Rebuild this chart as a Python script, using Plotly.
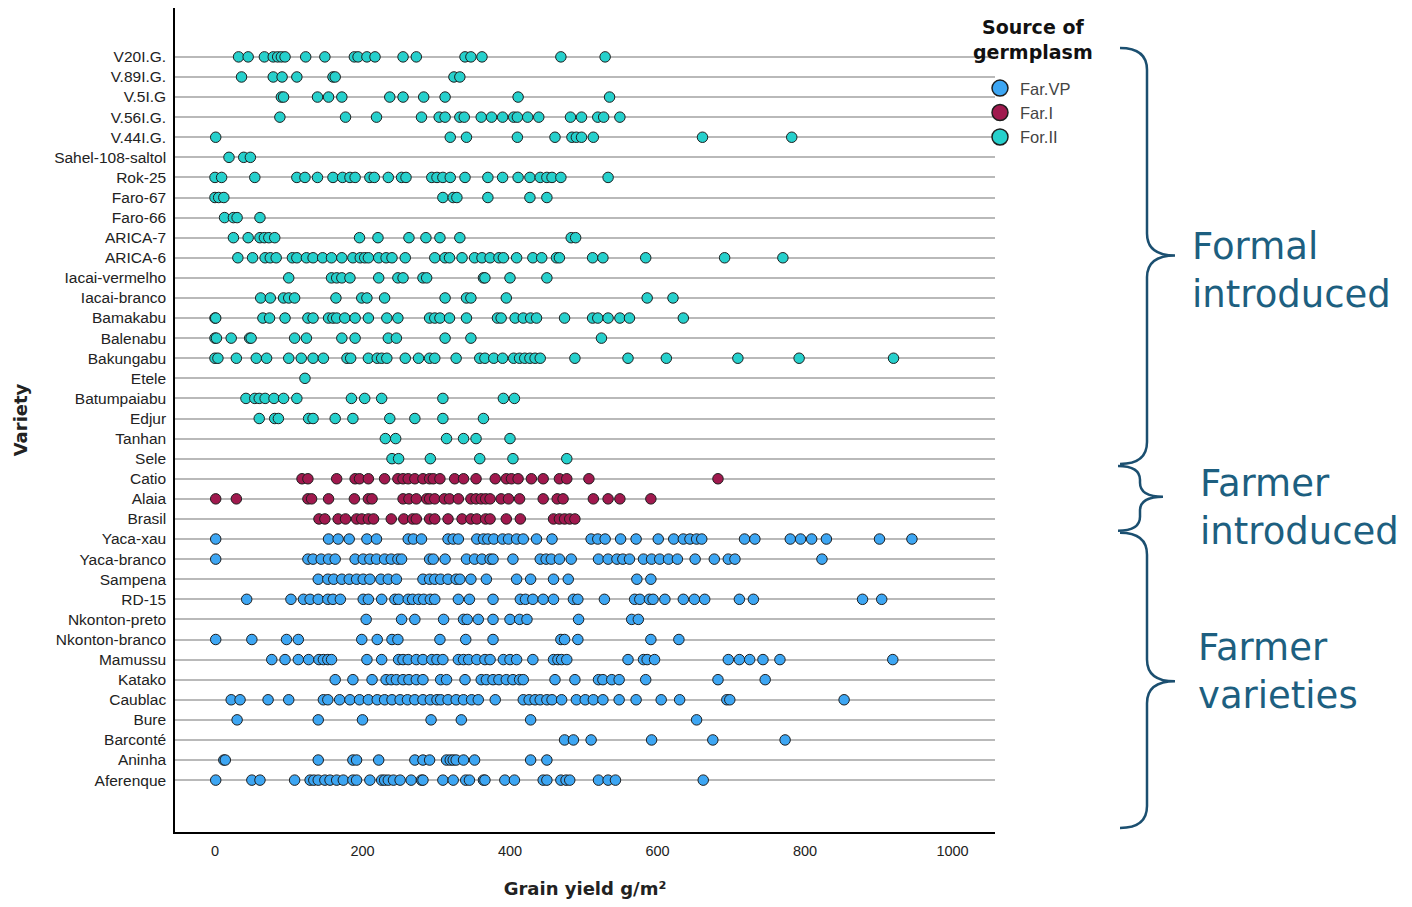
import plotly.graph_objects as go

# ---------------- data (bottom to top on the y axis) ----------------
varieties = ["Aferenque", "Aninha", "Barconté", "Bure", "Caublac", "Katako", "Mamussu",
             "Nkonton-branco", "Nkonton-preto", "RD-15", "Sampena", "Yaca-branco", "Yaca-xau",
             "Brasil", "Alaia", "Catio",
             "Sele", "Tanhan", "Edjur", "Batumpaiabu", "Etele", "Bakungabu", "Balenabu",
             "Bamakabu", "Iacai-branco", "Iacai-vermelho", "ARICA-6", "ARICA-7", "Faro-66",
             "Faro-67", "Rok-25", "Sahel-108-saltol", "V.44I.G.", "V.56I.G.", "V.5I.G",
             "V.89I.G.", "V20I.G."]

source = (["Far.VP"] * 13) + (["Far.I"] * 3) + (["For.II"] * 21)

sources = ["Far.VP", "Far.I", "For.II"]
source_colors = ["#3da6f3", "#a0194e", "#26d0cc"]

y_aferenque = [1, 50, 61, 108, 129, 134, 140, 149, 156, 165, 174, 187, 192, 210, 226, 230, 235, 242, 251,
               266, 280, 282, 309, 323, 340, 345, 364, 366, 393, 406, 445, 450, 469, 476, 481, 520, 533, 543, 662]
y_aninha = [12, 14, 140, 187, 192, 222, 271, 282, 291, 314, 319, 323, 327, 337, 352, 428, 450]
y_barconte = [474, 486, 510, 592, 675, 773]
y_bure = [30, 140, 200, 293, 334, 428, 653]
y_caublac = [22, 34, 72, 100, 147, 153, 169, 183, 196, 208, 220, 230, 240, 251, 261, 271, 282, 292, 301, 306,
             316, 327, 337, 348, 357, 380, 418, 426, 434, 441, 450, 457, 470, 490, 502, 513, 526, 548, 571, 605,
             630, 694, 698, 853]
y_katako = [163, 187, 213, 232, 239, 246, 255, 263, 273, 282, 306, 314, 339, 361, 368, 377, 385, 395, 404, 413,
            418, 461, 488, 520, 526, 538, 548, 584, 682, 746]
y_mamussu = [77, 95, 113, 127, 141, 147, 153, 158, 206, 226, 249, 255, 262, 273, 282, 294, 301, 309, 330, 337,
             344, 355, 366, 373, 391, 400, 409, 431, 459, 465, 470, 477, 560, 581, 586, 596, 696, 711, 725, 743,
             766, 919]
y_nkonton_branco = [1, 50, 97, 113, 199, 220, 240, 248, 305, 340, 377, 469, 474, 492, 591, 629]
y_nkonton_preto = [205, 253, 271, 310, 337, 342, 357, 377, 400, 413, 423, 493, 565, 574]
y_rd15 = [43, 103, 120, 129, 140, 153, 160, 170, 201, 208, 226, 244, 249, 262, 268, 276, 283, 292, 298, 330,
          345, 377, 414, 421, 431, 445, 459, 486, 492, 528, 569, 576, 589, 594, 610, 635, 650, 664, 711, 730,
          878, 904]
y_sampena = [140, 153, 161, 172, 182, 192, 201, 210, 225, 235, 246, 282, 291, 298, 306, 316, 327, 332, 347, 368,
             409, 428, 459, 479, 572, 591]
y_yaca_branco = [1, 126, 133, 144, 154, 163, 190, 201, 210, 219, 230, 239, 248, 253, 291, 296, 312, 341, 352,
                 362, 373, 377, 404, 441, 449, 456, 467, 483, 520, 533, 545, 553, 562, 581, 592, 603, 615, 627,
                 651, 677, 696, 705, 823]
y_yaca_xau = [1, 154, 167, 182, 206, 219, 262, 269, 280, 316, 323, 330, 355, 364, 370, 378, 390, 398, 409, 418,
              436, 457, 510, 519, 529, 550, 571, 601, 622, 635, 644, 653, 660, 718, 732, 780, 794, 809, 829, 901, 945]
y_brasil = [141, 149, 167, 177, 192, 199, 208, 215, 239, 256, 268, 273, 291, 298, 316, 335, 347, 355, 367, 373,
            395, 414, 459, 467, 474, 481, 488]
y_alaia = [1, 29, 126, 131, 154, 189, 208, 213, 255, 263, 273, 287, 291, 298, 311, 318, 330, 347, 354, 361, 367,
           373, 388, 398, 413, 445, 464, 472, 513, 533, 549, 591]
y_catio = [118, 126, 165, 190, 196, 208, 230, 248, 255, 262, 271, 282, 291, 296, 305, 325, 337, 354, 380, 395,
           402, 411, 429, 445, 467, 477, 507, 682]
y_sele = [240, 249, 292, 359, 404, 477]
y_tanhan = [231, 245, 314, 337, 354, 400]
y_edjur = [60, 81, 86, 127, 133, 163, 187, 237, 271, 309, 364]
y_batumpaiabu = [42, 54, 60, 68, 80, 93, 111, 185, 203, 226, 309, 391, 406]
y_etele = [122]
y_bakungabu = [0, 4, 29, 56, 70, 100, 117, 133, 147, 179, 184, 208, 220, 226, 233, 258, 276, 291, 298, 327, 359,
               366, 378, 390, 405, 413, 420, 427, 434, 441, 488, 560, 612, 709, 792, 920]
y_balenabu = [0, 2, 22, 47, 49, 108, 124, 172, 190, 235, 246, 312, 347, 524]
y_bamakabu = [0, 1, 65, 74, 95, 126, 133, 154, 160, 165, 176, 190, 208, 233, 248, 291, 298, 305, 318, 341, 383,
              388, 407, 418, 428, 436, 474, 512, 519, 533, 549, 562, 635]
y_iacai_branco = [62, 75, 93, 100, 108, 164, 199, 206, 230, 312, 341, 347, 395, 586, 621]
y_iacai_vermelho = [100, 158, 165, 172, 183, 222, 248, 255, 282, 287, 364, 366, 400, 450]
y_arica6 = [31, 51, 68, 75, 83, 105, 111, 124, 133, 146, 158, 172, 187, 197, 203, 208, 222, 232, 240, 258, 298,
            312, 318, 335, 352, 362, 373, 385, 391, 409, 431, 443, 463, 467, 512, 526, 584, 691, 770]
y_arica7 = [25, 45, 61, 67, 73, 81, 196, 221, 263, 286, 305, 332, 483, 489]
y_faro66 = [13, 25, 30, 61]
y_faro67 = [0, 5, 12, 309, 323, 328, 370, 427, 450]
y_rok25 = [0, 9, 54, 111, 122, 139, 160, 173, 183, 190, 210, 216, 235, 253, 259, 294, 301, 309, 319, 339, 370,
           390, 411, 427, 441, 450, 457, 469, 533]
y_sahel = [19, 39, 48]
y_v44 = [1, 319, 341, 410, 461, 484, 490, 497, 513, 661, 782]
y_v56 = [88, 177, 219, 280, 304, 312, 332, 338, 361, 375, 390, 405, 410, 424, 439, 482, 497, 519, 527, 549]
y_v5 = [90, 93, 139, 154, 172, 237, 255, 283, 312, 411, 535]
y_v89 = [36, 79, 91, 111, 160, 163, 324, 332]
y_v20 = [32, 45, 67, 79, 85, 90, 95, 123, 149, 189, 194, 206, 217, 255, 273, 339, 347, 362, 469, 529]

yield_lists = [y_aferenque, y_aninha, y_barconte, y_bure, y_caublac, y_katako, y_mamussu,
               y_nkonton_branco, y_nkonton_preto, y_rd15, y_sampena, y_yaca_branco, y_yaca_xau,
               y_brasil, y_alaia, y_catio,
               y_sele, y_tanhan, y_edjur, y_batumpaiabu, y_etele, y_bakungabu, y_balenabu,
               y_bamakabu, y_iacai_branco, y_iacai_vermelho, y_arica6, y_arica7, y_faro66,
               y_faro67, y_rok25, y_sahel, y_v44, y_v56, y_v5, y_v89, y_v20]

x_ticks = [0, 200, 400, 600, 800, 1000]

# ---------------- layout geometry (page pixels; body has an 8px margin) ----------------
OFF = 8
W, H = 1412 - 2 * OFF, 907 - 2 * OFF
L, R, T, B = 175, 995, 8, 834          # plot area in page pixels
PW, PH = R - L, B - T
ROW_TOP, ROW_BOT, ROW_STEP = 57, 782, (782 - 57) / 36


def px(x):
    return (x - L) / PW


def py(y):
    return (B - y) / PH


fig = go.Figure()

for src, col in zip(sources, source_colors):
    xs, ys = [], []
    for name, s, vals in zip(varieties, source, yield_lists):
        if s == src:
            xs += vals
            ys += [name] * len(vals)
    fig.add_trace(go.Scatter(
        x=xs, y=ys, mode="markers", name=src, showlegend=False,
        marker=dict(size=10.5, color=col, line=dict(color="#1e1e1e", width=1)),
    ))

# legend entries (larger markers)
for src, col in zip(sources, source_colors):
    fig.add_trace(go.Scatter(
        x=[None], y=[None], mode="markers", name=src, showlegend=True,
        marker=dict(size=17, color=col, line=dict(color="#1e1e1e", width=1.5)),
    ))

n = len(varieties)
y_lo = -(B - ROW_BOT) / ROW_STEP
y_hi = (n - 1) + (ROW_TOP - T) / ROW_STEP
fig.update_yaxes(
    type="category", categoryorder="array", categoryarray=varieties,
    range=[y_lo, y_hi],
    showgrid=True, gridcolor="#b9b9b9", gridwidth=2,
    showline=True, linecolor="black", linewidth=1.5,
    ticks="outside", ticklen=4, tickcolor="rgba(0,0,0,0)",
    tickfont=dict(family="Liberation Sans, Arial", size=15.5, color="#222"),
    title=dict(text="<b>Variety</b>", standoff=22,
               font=dict(family="DejaVu Sans", size=18, color="#222")),
    zeroline=False,
)
fig.update_xaxes(
    range=[-54.2, 1057.6], tickvals=x_ticks,
    showgrid=False, zeroline=False,
    showline=True, linecolor="black", linewidth=1.5,
    ticks="outside", ticklen=5, tickcolor="rgba(0,0,0,0)",
    tickfont=dict(family="Liberation Sans, Arial", size=14.5, color="#222"),
    title=dict(text="<b>Grain yield g/m²</b>", standoff=27,
               font=dict(family="DejaVu Sans", size=18, color="#222")),
)

brace_color = "#1b4f70"


def brace(y1, y2, ym, xs, xe, xt, r=22):
    p = (f"M {px(xe)},{py(y1)} Q {px(xs)},{py(y1)} {px(xs)},{py(y1 + r)} "
         f"L {px(xs)},{py(ym - r)} Q {px(xs)},{py(ym)} {px(xt)},{py(ym)} "
         f"Q {px(xs)},{py(ym)} {px(xs)},{py(ym + r)} "
         f"L {px(xs)},{py(y2 - r)} Q {px(xs)},{py(y2)} {px(xe)},{py(y2)}")
    return dict(type="path", path=p, xref="paper", yref="paper",
                line=dict(color=brace_color, width=2.5))


fig.update_layout(shapes=[
    brace(48, 465, 256, 1147, 1120, 1175),
    brace(467, 532, 498, 1140, 1118, 1163, r=14),
    brace(534, 830, 683, 1147, 1120, 1175),
])

group_labels = ["Formal<br>introduced", "Farmer<br>introduced", "Farmer<br>varieties"]
group_label_pos = [(1190, 271), (1198, 509), (1196, 673)]
for txt, (gx, gy) in zip(group_labels, group_label_pos):
    fig.add_annotation(text=txt, xref="paper", yref="paper", x=px(gx), y=py(gy),
                       xanchor="left", yanchor="middle", align="left", showarrow=False,
                       font=dict(family="DejaVu Sans", size=37, color="#1d5f80"))

# legend title as an annotation (centered above the items)
fig.add_annotation(text="<b>Source of<br>germplasm</b>", xref="paper", yref="paper",
                   x=px(1033), y=py(40), xanchor="center", yanchor="middle",
                   align="center", showarrow=False,
                   font=dict(family="DejaVu Sans", size=19, color="#111"))

fig.update_layout(
    width=W, height=H,
    margin=dict(l=L - OFF, r=(W + OFF) - R, t=T - OFF, b=(H + OFF) - B, pad=0),
    paper_bgcolor="white", plot_bgcolor="white",
    legend=dict(
        x=px(980), y=py(71), xanchor="left", yanchor="top",
        font=dict(family="Liberation Sans, Arial", size=16.5, color="#444"),
        bgcolor="rgba(0,0,0,0)", itemwidth=30, tracegroupgap=0,
    ),
)

fig.write_html("out.html")
